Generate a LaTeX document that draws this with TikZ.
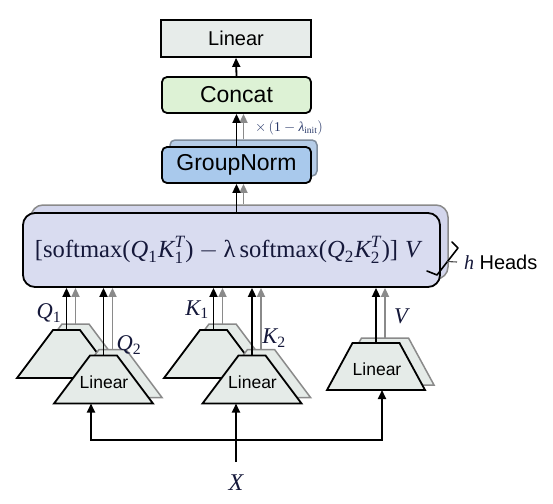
\documentclass[tikz,border=0pt]{standalone}
\usepackage{amsmath}
\usepackage{fontspec}
\newfontfamily\lsans{Liberation Sans}
\newfontfamily\lserif{Liberation Serif}
\usepackage{graphicx}
\usetikzlibrary{arrows.meta,calc}
\definecolor{linfill}{HTML}{E7ECEA}
\definecolor{concatfill}{HTML}{DDF2D5}
\definecolor{gnfill}{HTML}{A9C9EC}
\definecolor{gnshfill}{HTML}{B6CDE8}
\definecolor{gnshdraw}{HTML}{7E8C9C}
\definecolor{bigfill}{HTML}{D9DCF0}
\definecolor{bigshfill}{HTML}{D3D6EC}
\definecolor{shgray}{HTML}{8A8A8A}
\definecolor{trapfill}{HTML}{E5EBE8}
\definecolor{mathcol}{HTML}{15183A}
\definecolor{lamcol}{HTML}{2A3A6A}
\newcommand\tx[1]{\text{\lserif #1}}
\newcommand\ti[1]{\text{\lserif\itshape #1}}
% #1 name, #2 cx, #3 cy, #4 top half width, #5 bottom half width, #6 half height, #7 style
\newcommand\trapzd[7]{%
  \draw[#7] ({#2-#4},{#3-#6}) -- ({#2+#4},{#3-#6}) -- ({#2+#5},{#3+#6}) -- ({#2-#5},{#3+#6}) -- cycle;
  \coordinate (#1-n) at (#2,{#3-#6});
  \coordinate (#1-s) at (#2,{#3+#6});
}
\begin{document}
\begin{tikzpicture}[x=1pt,y=-1pt,
  blk/.style={draw=black, line width=1.8pt},
  linbox/.style={blk, fill=linfill, minimum width=150pt, minimum height=37pt, inner sep=0pt, font=\lsans\fontsize{20}{24}\selectfont},
  rbox/.style={blk, rounded corners=5pt, minimum width=149pt, minimum height=36pt, inner sep=0pt, font=\lsans\fontsize{23}{27}\selectfont},
  rshadow/.style={rbox, fill=gnshfill, draw=gnshdraw, line width=1.5pt},
  bigbox/.style={blk, rounded corners=12pt, fill=bigfill, minimum width=417pt, minimum height=74pt, inner sep=0pt},
  bigshadow/.style={bigbox, fill=bigshfill, draw=shgray, line width=1.5pt},
  trapblk/.style={blk, fill=trapfill, line join=miter},
  trapsh/.style={draw=shgray, line width=1.5pt, fill=trapfill, line join=miter},
  traptxt/.style={inner sep=0pt, font=\lsans\fontsize{17.5}{20}\selectfont},
  arr/.style={line width=1.8pt, -{Triangle[length=9pt,width=8pt]}},
  garr/.style={arr, draw=shgray},
  lab/.style={inner sep=0pt, text=mathcol, font=\fontsize{22.5}{26}\selectfont}
]
\useasboundingbox (0,0) rectangle (553,503);

% top stack
\node[linbox] (lin) at (236,38.5) {Linear};
\node[rbox, fill=concatfill] (conc) at (236.5,95) {Concat};
\node[rshadow, minimum width=147pt] (gns) at (243.5,158) {};
\node[rbox, fill=gnfill] (gn) at (236.5,165) {GroupNorm};
\node[inner sep=0pt, text=lamcol, font=\fontsize{13.5}{15}\selectfont] (lamlbl) at (289,128) {$\times\,(\tx{1}-\ti{λ}_{\tx{init}})$};

% big attention box
\node[bigshadow] (bigs) at (239.5,242) {};
\node[bigbox] (big) at (231.5,250) {\textcolor{mathcol}{\resizebox{385pt}{!}{$\tx{[softmax(}\ti{Q}_{\tx{1}}\ti{K}_{\tx{1}}^{\ti{T}}\tx{)}-\tx{λ}\,\tx{softmax(}\ti{Q}_{\tx{2}}\ti{K}_{\tx{2}}^{\ti{T}}\tx{)]}\;\ti{V}$}}\hspace*{8pt}};

% heads brace
\draw[line width=1.6pt, line join=round, line cap=round] (452,242) -- (458,248) -- (437,275) -- (427,271);
\coordinate (bm) at (447,261.5);
\node[inner sep=0pt, outer sep=7pt, anchor=west, font=\lsans\fontsize{20}{24}\selectfont] (heads) at (457,262) {\textcolor{mathcol}{\lserif\itshape h} Heads};
\draw[line width=1.1pt, draw=black!70] (bm) -- (heads.west);

% trapezoids
\trapzd{q1s}{75.5}{348}{13.5}{49.5}{24}{trapsh}
\trapzd{q1}{66.5}{354}{13.5}{49.5}{24}{trapblk}
\trapzd{q2s}{112.5}{373.5}{13.5}{49.5}{24}{trapsh}
\trapzd{q2}{103.5}{379.5}{13.5}{49.5}{24}{trapblk}
\node[traptxt] (q2t) at (104,382) {Linear};
\trapzd{k1s}{222.5}{348}{13.5}{49.5}{24}{trapsh}
\trapzd{k1}{213.5}{354}{13.5}{49.5}{24}{trapblk}
\trapzd{k2s}{261}{373.5}{13.5}{49.5}{24}{trapsh}
\trapzd{k2}{252}{379.5}{13.5}{49.5}{24}{trapblk}
\node[traptxt] (k2t) at (252.5,382) {Linear};
\trapzd{vs}{385}{361.5}{23.5}{49}{23.5}{trapsh}
\trapzd{v}{376}{366.5}{23.5}{49}{23.5}{trapblk}
\node[traptxt] (vt) at (377,369) {Linear};

% labels
\node[lab] (lq1) at (49,313) {$\ti{Q}_{\tx{1}}$};
\node[lab] (lq2) at (129,345) {$\ti{Q}_{\tx{2}}$};
\node[lab] (lk1) at (197,310) {$\ti{K}_{\tx{1}}$};
\node[lab] (lk2) at (274,338) {$\ti{K}_{\tx{2}}$};
\node[lab] (lv) at (401,316) {$\ti{V}$};
\node[lab, outer sep=13pt, font=\fontsize{24}{28}\selectfont] (X) at (236,483) {$\ti{X}$};

% arrows up into big box
\foreach \n in {q1s,q2s,k1s,k2s,vs} {
  \draw[garr] (\n-n) -- (\n-n |- big.south);
}
\foreach \n in {q1,q2,k1,k2,v} {
  \draw[arr] (\n-n) -- (\n-n |- big.south);
}

% big -> groupnorm
\draw[garr] ([xshift=7pt]gn.south |- bigs.north) -- ([xshift=7pt]gn.south);
\draw[arr] (gn.south |- big.north) -- (gn.south);
% groupnorm -> concat
\draw[garr] (gns.north) -- (gns.north |- conc.south);
\draw[arr] (gn.north) -- (conc.south);
% concat -> linear
\draw[arr] (conc.north) -- (lin.south);

% input
\coordinate (split) at (236,440);
\draw[arr] (X.north) -- (X.north |- k2-s);
\draw[arr, line join=miter] (split) -| ([xshift=-12.5pt]q2-s);
\draw[arr, line join=miter] (split) -| ([xshift=6pt]v-s);
\end{tikzpicture}
\end{document}
